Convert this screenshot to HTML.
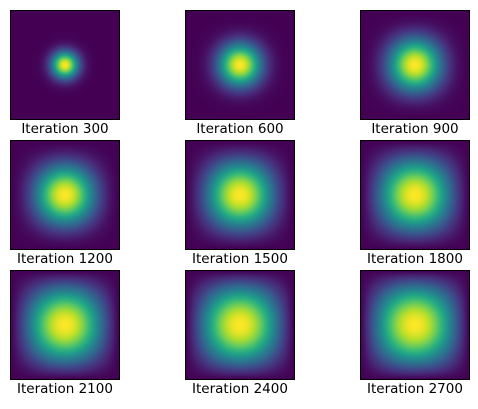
<!DOCTYPE html>
<html><head><meta charset="utf-8">
<style>
body{margin:0;background:#fff;width:478px;height:409px;position:relative;overflow:hidden;font-family:"DejaVu Sans","Liberation Sans",sans-serif;}
.panel{position:absolute;width:110px;height:110px;box-sizing:border-box;border:1px solid #000;}
.panel canvas{width:108px;height:108px;display:block;}
.lbl{position:absolute;width:160px;text-align:center;font-size:13.5px;color:#000;line-height:15px;}
</style></head><body>
<script>
const labels=["Iteration 300","Iteration 600","Iteration 900","Iteration 1200","Iteration 1500","Iteration 1800","Iteration 2100","Iteration 2400","Iteration 2700"];
const spreads=[0.09,0.155,0.205,0.25,0.31,0.37,0.44,0.51,0.6];
const viridisStops=[[68,1,84],[72,40,120],[62,74,137],[49,104,142],[38,130,142],[31,158,137],[53,183,121],[109,205,89],[180,222,44],[253,231,37]];
function viridis(t){t=Math.max(0,Math.min(1,t));const n=viridisStops.length-1;const p=t*n;const i=Math.min(n-1,Math.floor(p));const f=p-i;const a=viridisStops[i],b=viridisStops[i+1];return [a[0]+(b[0]-a[0])*f,a[1]+(b[1]-a[1])*f,a[2]+(b[2]-a[2])*f];}
const colX=[10,185,360],rowY=[10,140,270];
labels.forEach((lab,k)=>{
  const c=k%3,r=Math.floor(k/3);
  const div=document.createElement('div');div.className='panel';
  
  
  div.style.left=colX[c]+'px';div.style.top=rowY[r]+'px';
  const cv=document.createElement('canvas');cv.width=108;cv.height=108;
  
  
  div.appendChild(cv);document.body.appendChild(div);
  const ctx=cv.getContext('2d');const img=ctx.createImageData(108,108);
  const s=spreads[k];let vals=[],mx=0;
  for(let y=0;y<108;y++)for(let x=0;x<108;x++){
    const u=(x+0.5)/108,v=(y+0.5)/108;const dx=u-0.5,dy=v-0.5;
    const val=Math.exp(-(dx*dx+dy*dy)/(2*s*s))*Math.sin(Math.PI*u)*Math.sin(Math.PI*v);
    vals.push(val);if(val>mx)mx=val;}
  for(let i=0;i<vals.length;i++){const col=viridis(vals[i]/mx);img.data[i*4]=col[0];img.data[i*4+1]=col[1];img.data[i*4+2]=col[2];img.data[i*4+3]=255;}
  ctx.putImageData(img,0,0);
  const l=document.createElement('div');l.className='lbl';l.textContent=lab;
  
  
  l.style.left=(colX[c]+55-80)+'px';l.style.top=(rowY[r]+112)+'px';
  document.body.appendChild(l);
});
</script>
</body></html>
